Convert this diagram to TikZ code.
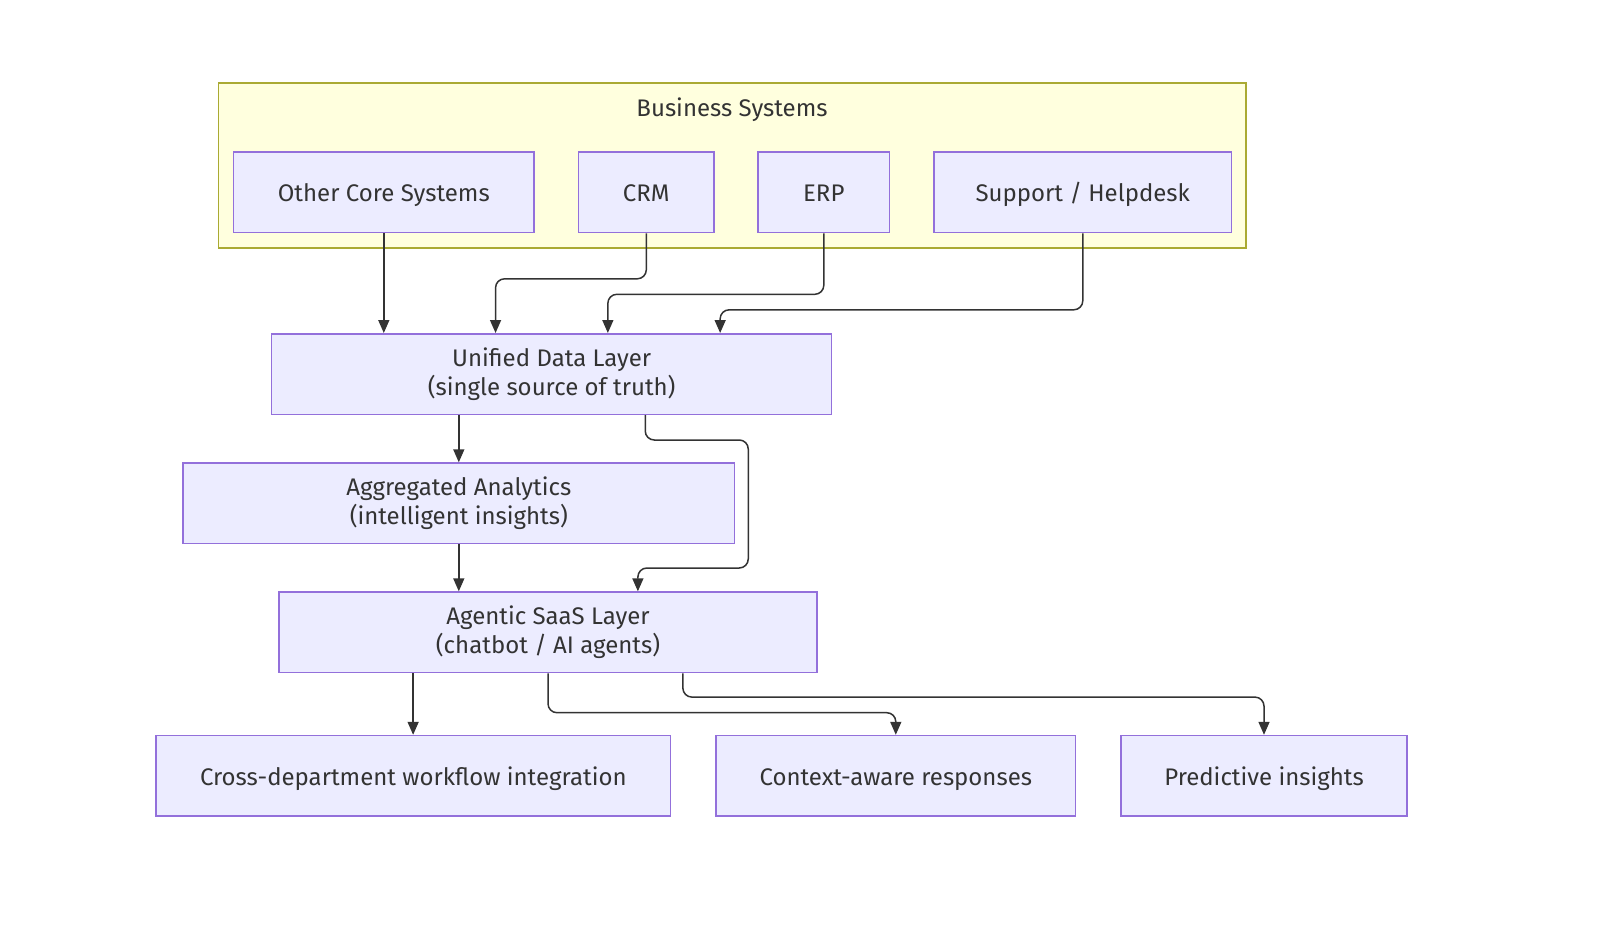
\documentclass[tikz,border=0pt]{standalone}
\usepackage{fontspec}
\setmainfont{Fira Sans}
\usetikzlibrary{arrows.meta,calc}
\definecolor{nodefill}{HTML}{ECECFF}
\definecolor{nodeline}{HTML}{9370DB}
\definecolor{clfill}{HTML}{FFFFDE}
\definecolor{clline}{HTML}{AAAA33}
\definecolor{ink}{HTML}{333333}
\tikzset{
  box/.style={draw=nodeline, fill=nodefill, line width=1.5pt, minimum height=80.5pt, inner sep=0pt,
    text=ink, font=\fontsize{24}{28.5}\selectfont, align=center},
  one/.style={box, text height=24pt, text depth=5pt},
  arr/.style={draw=ink, line width=1.5pt, rounded corners=9pt, -{Triangle[length=13pt,width=11pt]}},
}
\begin{document}
\begin{tikzpicture}[x=1pt,y=-1pt]
\useasboundingbox (0,0) rectangle (1620,946);
\fill[white] (0,0) rectangle (1620,946);
\draw[draw=clline, fill=clfill, line width=1.5pt] (218.5,83) rectangle (1246,248);
\node[text=ink, font=\fontsize{24}{28.5}\selectfont] (title) at (732,109.5) {Business Systems};
\node[one, minimum width=300.5pt] (oc) at (383.8,192.3) {Other Core Systems};
\node[one, minimum width=135.4pt] (crm) at (646.3,192.3) {CRM};
\node[one, minimum width=131.6pt] (erp) at (823.8,192.3) {ERP};
\node[one, minimum width=297.6pt] (sup) at (1082.8,192.3) {Support / Helpdesk};
\node[box, minimum width=560pt] (udl) at (551.7,374) {Unified Data Layer\\(single source of truth)};
\node[box, minimum width=551.6pt] (agg) at (458.8,503.3) {Aggregated Analytics\\(intelligent insights)};
\node[box, minimum width=538pt] (ags) at (548,632.3) {Agentic SaaS Layer\\(chatbot / AI agents)};
\node[one, minimum width=514.5pt] (cross) at (413.3,775.8) {Cross-department workflow integration};
\node[one, minimum width=359.6pt] (ctx) at (895.8,775.8) {Context-aware responses};
\node[one, minimum width=286pt] (pred) at (1264,775.8) {Predictive insights};
\coordinate (u1) at ($(udl.north west)!0.2!(udl.north east)$);
\coordinate (u2) at ($(udl.north west)!0.4!(udl.north east)$);
\coordinate (u3) at ($(udl.north west)!0.6!(udl.north east)$);
\coordinate (u4) at ($(udl.north west)!0.8!(udl.north east)$);
\coordinate (us) at ($(udl.south west)!0.6666!(udl.south east)$);
\coordinate (at) at ($(ags.north west)!0.6666!(ags.north east)$);
\coordinate (a1) at ($(ags.south west)!0.25!(ags.south east)$);
\coordinate (a3) at ($(ags.south west)!0.75!(ags.south east)$);
\draw[arr] (oc.south) -- (oc.south |- u1);
\draw[arr] (crm.south) -- ++(0,45.5) -| (u2);
\draw[arr] (erp.south) -- ++(0,61) -| (u3);
\draw[arr] (sup.south) -- ++(0,76.5) -| (u4);
\draw[arr] (agg.north |- udl.south) -- (agg.north);
\draw[arr] (us) -- ++(0,25) -- ++(103,0) -- ++(0,128) -| (at);
\draw[arr] (agg.south) -- (agg.south |- ags.north);
\draw[arr] (a1) -- (a1 |- cross.north);
\draw[arr] (ags.south) -- ++(0,39.4) -| (ctx.north);
\draw[arr] (a3) -- ++(0,23.8) -| (pred.north);
\end{tikzpicture}
\end{document}
